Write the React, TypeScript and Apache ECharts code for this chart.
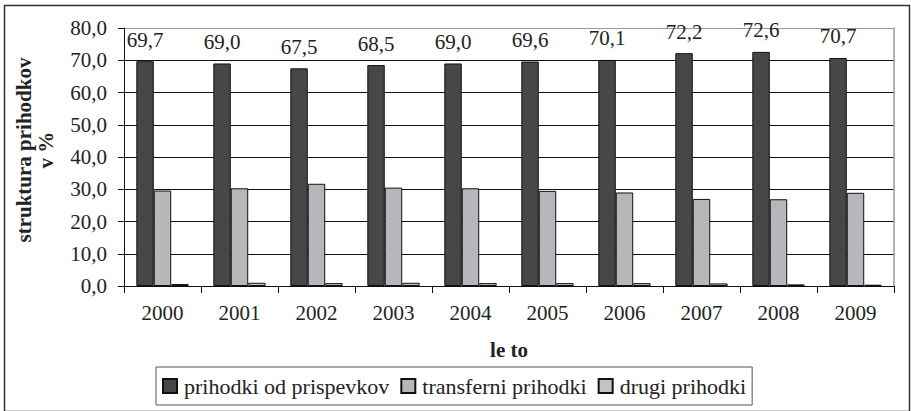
import React, { useEffect, useRef } from "react";
import * as echarts from "echarts";

const years = ["2000", "2001", "2002", "2003", "2004", "2005", "2006", "2007", "2008", "2009"];
const prispevki = [69.7, 69.0, 67.5, 68.5, 69.0, 69.6, 70.1, 72.2, 72.6, 70.7];
const transferni = [29.6, 30.3, 31.7, 30.5, 30.3, 29.5, 29.0, 27.0, 26.9, 28.9];
const drugi = [0.6, 1.0, 0.9, 1.0, 0.9, 0.9, 0.9, 0.8, 0.5, 0.4];
const seriesNames = ["prihodki od prispevkov", "transferni prihodki", "drugi prihodki"];
const yTitleLines = ["struktura prihodkov", "v %"];

const FONT = "Liberation Serif";
const fmt = (v: number) => v.toFixed(1).replace(".", ",");

export default function App() {
  const ref = useRef<HTMLDivElement>(null);
  useEffect(() => {
    if (!ref.current) return;
    const chart = echarts.init(ref.current, null, { renderer: "svg" });
    const barStyle = (color: string) => ({ color, borderColor: "#111", borderWidth: 1 });
    const titleText = (text: string, x: number) => ({
      type: "text",
      x,
      y: 150,
      rotation: Math.PI / 2,
      style: {
        text,
        align: "center",
        verticalAlign: "middle",
        fontFamily: FONT,
        fontWeight: "bold",
        fontSize: 21,
        fill: "#222",
      },
    });
    chart.setOption({
      animation: false,
      backgroundColor: "#fff",
      textStyle: { fontFamily: FONT },
      grid: { left: 124, top: 28, right: 17, bottom: 125 },
      legend: {
        left: 156,
        top: 367,
        orient: "horizontal",
        itemWidth: 14,
        itemHeight: 14,
        itemGap: 11,
        borderColor: "#555",
        borderWidth: 1,
        padding: [8, 6, 8, 6],
        icon: "rect",
        textStyle: { fontFamily: FONT, fontSize: 22, color: "#222", padding: [0, 0, 0, 2] },
        data: seriesNames,
      },
      xAxis: {
        type: "category",
        data: years,
        axisLine: { lineStyle: { color: "#111", width: 1 } },
        axisTick: { show: true, length: 7, lineStyle: { color: "#111" } },
        axisLabel: { fontFamily: FONT, fontSize: 21, color: "#222", margin: 16 },
      },
      yAxis: [
        {
          type: "value",
          min: 0,
          max: 80,
          interval: 10,
          axisLine: { show: true, lineStyle: { color: "#111", width: 1 } },
          axisTick: { show: true, length: 6, lineStyle: { color: "#111" } },
          axisLabel: { fontFamily: FONT, fontSize: 21, color: "#222", margin: 17, formatter: fmt },
          splitLine: {
            show: true,
            lineStyle: { color: ["#111", "#111", "#111", "#111", "#111", "#111", "#111", "#111", "#999"], width: 1 },
          },
        },
        {
          type: "value",
          min: 0,
          max: 80,
          interval: 10,
          position: "right",
          axisLine: { show: true, lineStyle: { color: "#999", width: 1.5 } },
          axisTick: { show: false },
          axisLabel: { show: false },
          splitLine: { show: false },
        },
      ],
      series: [
        {
          name: seriesNames[0],
          type: "bar",
          data: prispevki,
          barGap: "0%",
          barCategoryGap: "32%",
          itemStyle: barStyle("#474747"),
          label: {
            show: true,
            position: "top",
            distance: 11,
            fontFamily: FONT,
            fontSize: 21,
            color: "#222",
            formatter: (p: any) => fmt(p.value),
          },
        },
        { name: seriesNames[1], type: "bar", data: transferni, barGap: "0%", barCategoryGap: "32%", itemStyle: barStyle("#b6b7ba") },
        { name: seriesNames[2], type: "bar", data: drugi, barGap: "0%", barCategoryGap: "32%", itemStyle: barStyle("#c2c3c6") },
      ],
      graphic: [
        {
          type: "rect",
          left: 2,
          top: 3,
          shape: { width: 905, height: 406 },
          style: { fill: "none", stroke: "#333", lineWidth: 1.5 },
          silent: true,
        },
        titleText(yTitleLines[0], 24),
        titleText(yTitleLines[1], 46),
        {
          type: "text",
          x: 509,
          y: 350,
          style: {
            text: "le to",
            align: "center",
            verticalAlign: "middle",
            fontFamily: FONT,
            fontWeight: "bold",
            fontSize: 21,
            fill: "#222",
          },
        },
      ],
    });
    return () => chart.dispose();
  }, []);
  return <div ref={ref} style={{ position: "absolute", left: 0, top: 0, width: 911, height: 411 }} />;
}
